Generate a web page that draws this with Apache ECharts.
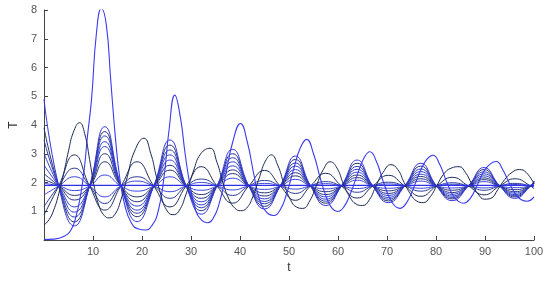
<!DOCTYPE html>
<html><head><meta charset="utf-8">
<script src="https://cdn.jsdelivr.net/npm/echarts@6/dist/echarts.min.js"></script>
<style>html,body{margin:0;padding:0;background:#fff}#c{width:550px;height:282px}</style>
</head><body><div id="c"></div>
<script>
// shared time grid (nodes + extrema) for the family of small-amplitude solutions
const tGrid = [0,3.0,6.2,9.3,12.4,15.7,19.0,22.4,25.7,29.0,32.1,35.3,38.5,41.8,45.0,48.2,51.3,54.4,57.5,60.7,63.9,67.1,70.3,73.6,76.9,80.1,83.3,86.6,89.8,93.0,96.1,99.3,100];

const curveA1 = [4.9,1.88,0.49,1.88,3.94,1.88,0.64,1.88,3.48,1.88,0.9,1.88,3.15,1.88,1.08,1.88,2.92,1.88,1.2,1.88,2.78,1.88,1.3,1.88,2.67,1.88,1.37,1.88,2.52,1.88,1.45,1.88,2.05];
const curveA2 = [3.9,1.88,0.63,1.88,3.77,1.88,0.81,1.88,3.3,1.88,1.02,1.88,3.0,1.88,1.17,1.88,2.8,1.88,1.28,1.88,2.67,1.88,1.36,1.88,2.57,1.88,1.43,1.88,2.45,1.88,1.5,1.88,2.04];
const curveA3 = [3.48,1.88,0.8,1.88,3.62,1.88,0.93,1.88,3.13,1.88,1.12,1.88,2.86,1.88,1.26,1.88,2.68,1.88,1.35,1.88,2.56,1.88,1.42,1.88,2.47,1.88,1.48,1.88,2.37,1.88,1.54,1.88,2.03];
const curveA4 = [3.01,1.88,0.97,1.88,3.42,1.88,1.04,1.88,2.96,1.88,1.22,1.88,2.72,1.88,1.34,1.88,2.57,1.88,1.42,1.88,2.46,1.88,1.48,1.88,2.38,1.88,1.53,1.88,2.3,1.88,1.58,1.88,2.01];
const curveA5 = [2.6,1.88,1.15,1.88,3.25,1.88,1.18,1.88,2.78,1.88,1.33,1.88,2.58,1.88,1.43,1.88,2.45,1.88,1.5,1.88,2.36,1.88,1.55,1.88,2.29,1.88,1.59,1.88,2.23,1.88,1.63,1.88,2.0];
const curveA6 = [2.3,1.88,1.39,1.88,3.0,1.88,1.33,1.88,2.6,1.88,1.45,1.88,2.44,1.88,1.53,1.88,2.34,1.88,1.58,1.88,2.26,1.88,1.62,1.88,2.21,1.88,1.65,1.88,2.16,1.88,1.68,1.88,1.98];
const curveA7 = [2.1,1.88,1.55,1.88,2.72,1.88,1.5,1.88,2.43,1.88,1.58,1.88,2.31,1.88,1.64,1.88,2.23,1.88,1.68,1.88,2.17,1.88,1.71,1.88,2.13,1.88,1.73,1.88,2.1,1.88,1.75,1.88,1.96];
const curveA8 = [1.97,1.88,1.72,1.88,2.26,1.88,1.7,1.88,2.2,1.88,1.73,1.88,2.15,1.88,1.76,1.88,2.11,1.88,1.78,1.88,2.08,1.88,1.8,1.88,2.05,1.88,1.81,1.88,2.03,1.88,1.82,1.88,1.93];
const curveB2 = [0.87,1.88,2.96,1.88,1.04,1.88,2.72,1.88,1.15,1.88,2.55,1.88,1.28,1.88,2.42,1.88,1.38,1.88,2.32,1.88,1.46,1.88,2.25,1.88,1.52,1.88,2.18,1.88,1.57,1.88,2.13,1.88,1.78];
const curveB3 = [1.16,1.88,2.5,1.88,1.27,1.88,2.2,1.88,1.45,1.88,2.12,1.88,1.55,1.88,2.07,1.88,1.62,1.88,2.03,1.88,1.66,1.88,2.01,1.88,1.7,1.88,1.99,1.88,1.73,1.88,1.97,1.88,1.84];
const curveB4 = [1.57,1.88,2.2,1.88,1.5,1.88,2.05,1.88,1.68,1.88,2.0,1.88,1.74,1.88,1.97,1.88,1.77,1.88,1.96,1.88,1.79,1.88,1.95,1.88,1.8,1.88,1.94,1.88,1.81,1.88,1.93,1.88,1.86];

// large-amplitude solution starting near zero
const bigAT = [0,2,4,5.5,6.5,7.5,8.3,8.8,9.7,10.7,11.7,12.7,13.6,14.6,15.5,16.5,17.8,19.3,20.7,22,23.3,24.5,25.5,26.7,27.8,28.8,29.8,31,32.2,33.3,34.5,35.8,37,38.5,40.1,41.5,42.8,44,45.5,46.8,48.2,49.5,51,52.3,53.6,55,56.3,57.6,58.8,59.9,61.2,62.5,64,65.3,66.5,67.8,69.1,70.3,71.5,72.6,74,75.4,76.8,78.2,79.4,80.7,82,83.3,84.5,85.6,87,88.4,89.8,91.1,92.3,93.6,94.9,96.2,97.4,98.6,100];
const bigAV = [0.02,0.03,0.12,0.35,0.8,1.6,2.6,3.5,4.9,7.2,8.05,7.5,5.6,3.5,2.1,1.2,0.6,0.38,0.35,0.5,1.0,2.2,3.8,5.04,4.3,3.0,1.9,1.0,0.68,0.6,0.75,1.3,2.2,3.4,4.05,3.4,2.3,1.4,0.95,0.85,1.05,1.6,2.5,3.2,3.5,3.0,2.2,1.5,1.1,0.99,1.15,1.6,2.3,2.85,3.07,2.75,2.1,1.55,1.2,1.1,1.3,1.8,2.4,2.82,2.95,2.65,2.1,1.6,1.35,1.28,1.45,1.9,2.4,2.65,2.73,2.45,2.0,1.6,1.4,1.35,1.5];

// second large solution, opposite phase
const bigBT = [0,1,2,3,4,5,6,7.25,8.3,9.3,10.2,11.2,12.3,13.3,14.5,15.7,17,18.5,20.4,21.8,22.8,23.8,25,26.3,27.5,29,30.5,32,33.9,35.3,36.5,37.8,39,40.1,41.3,42.6,44,45.2,46.4,47.7,49,50.3,51.5,52.8,54.2,55.6,57,58.4,59.8,61.1,62.4,63.7,65,66.4,67.8,69.2,70.8,72.2,73.5,74.8,76.1,77.4,78.8,80.2,81.6,83.1,84.7,86,87.3,88.6,89.9,91.2,92.6,94,95.5,97,98.4,100];
const bigBV = [0.52,0.7,1.05,1.6,2.3,3.1,3.75,4.08,3.7,2.8,1.9,1.2,0.85,0.77,0.9,1.4,2.2,3.1,3.54,3.0,2.3,1.6,1.05,0.88,1.0,1.6,2.4,3.0,3.19,2.7,2.0,1.4,1.1,1.02,1.1,1.5,2.2,2.75,2.96,2.6,1.95,1.4,1.15,1.1,1.35,1.9,2.45,2.72,2.5,1.95,1.5,1.25,1.2,1.4,1.9,2.35,2.62,2.45,2.0,1.6,1.35,1.3,1.5,1.9,2.3,2.5,2.55,2.35,1.95,1.6,1.42,1.45,1.75,2.1,2.35,2.45,2.35,1.95];

// equilibrium solution
const eqT = [0,100];
const eqV = [1.9,1.9];

const xTicks = [0,10,20,30,40,50,60,70,80,90,100];
const yTicks = [0,1,2,3,4,5,6,7,8];

const curves = [
  {t:tGrid, v:curveA2, color:'#22306a', w:1},
  {t:tGrid, v:curveA3, color:'#2b3cb0', w:1},
  {t:tGrid, v:curveA4, color:'#2f3dc6', w:1},
  {t:tGrid, v:curveA5, color:'#3340d2', w:1},
  {t:tGrid, v:curveA6, color:'#28357f', w:1},
  {t:tGrid, v:curveA7, color:'#253475', w:1},
  {t:tGrid, v:curveA8, color:'#3a44e0', w:1},
  {t:tGrid, v:curveB3, color:'#2a3a9a', w:1},
  {t:tGrid, v:curveB4, color:'#3b45d8', w:1},
  {t:tGrid, v:curveB2, color:'#1f2d5e', w:1},
  {t:tGrid, v:curveA1, color:'#3434e0', w:1},
  {t:eqT, v:eqV, color:'#2f2fe6', w:1.4},
  {t:bigAT, v:bigAV, color:'#3a3af2', w:1.1},
  {t:bigBT, v:bigBV, color:'#1c2a55', w:1}
];

const chart = echarts.init(document.getElementById('c'), null, {renderer:'canvas'});
const font = "'Liberation Sans', Arial, sans-serif";
chart.setOption({
  animation: false,
  backgroundColor: '#fff',
  grid: {left: 33, right: 16, top: 10, bottom: 42},
  xAxis: {
    type: 'value', min: xTicks[0], max: xTicks[xTicks.length-1], interval: 10,
    name: 't', nameLocation: 'middle', nameGap: 22,
    nameTextStyle: {color: '#333', fontSize: 12, fontFamily: font},
    axisLine: {lineStyle: {color: '#444', width: 1}},
    axisTick: {inside: true, length: 4, lineStyle: {color: '#444'}},
    axisLabel: {showMinLabel: false, color: '#555', fontSize: 11, fontFamily: font, margin: 6},
    splitLine: {show: false}
  },
  yAxis: {
    type: 'value', min: yTicks[0], max: yTicks[yTicks.length-1], interval: 1,
    name: 'T', nameLocation: 'middle', nameGap: 20,
    nameTextStyle: {color: '#333', fontSize: 12, fontFamily: font},
    axisLine: {show: true, lineStyle: {color: '#444', width: 1}},
    axisTick: {show: true, inside: true, length: 4, lineStyle: {color: '#444'}},
    axisLabel: {showMinLabel: false, color: '#555', fontSize: 11, fontFamily: font, margin: 7},
    splitLine: {show: false}
  },
  series: curves.map(c => ({
    type: 'line',
    data: c.t.map((t, i) => [t, c.v[i]]),
    smooth: 0.5,
    symbol: 'none',
    lineStyle: {color: c.color, width: c.w},
    emphasis: {disabled: true}
  }))
});
</script></body></html>
